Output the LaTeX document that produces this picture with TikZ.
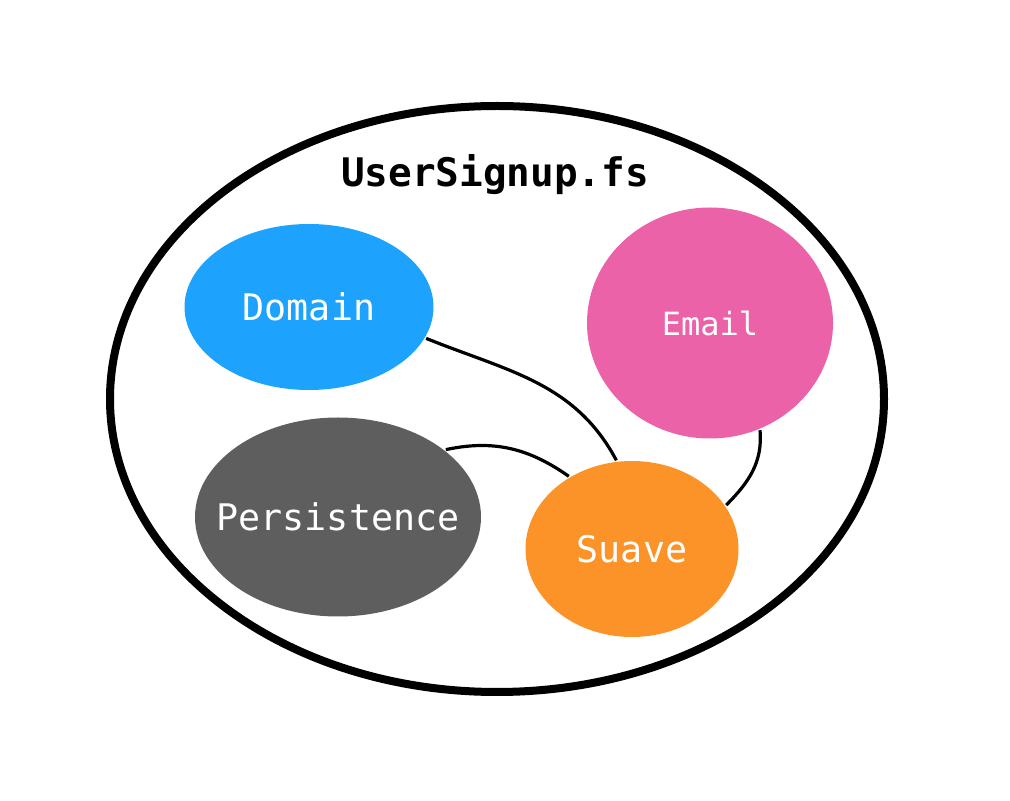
\documentclass[tikz,border=0pt]{standalone}
\usepackage{fontspec}
\usepackage{xcolor}
\usepackage{tikz}
\usetikzlibrary{shapes.geometric}
\usetikzlibrary{positioning}
\newfontfamily\codefont{DejaVu Sans Mono}
\definecolor{domainblue}{HTML}{1DA3FD}
\definecolor{emailpink}{HTML}{EC62A8}
\definecolor{persistgray}{HTML}{5E5E5E}
\definecolor{suaveorange}{HTML}{FC9329}
\begin{document}
\begin{tikzpicture}[on grid, line width=2.4pt,
    module/.style = {ellipse, inner sep=0pt, text=white, font=\codefont\fontsize{27.5}{30}\selectfont}]
    \useasboundingbox (0,0) rectangle (757.5pt,600pt);
    \draw[line width=6pt] (372.75pt,300.75pt) ellipse [x radius=290.25pt, y radius=219.75pt];

    \node[module, fill=domainblue, minimum width=186.75pt, minimum height=124.5pt] (D) at (231.75pt,369.75pt) {Domain};
    \node[module, fill=emailpink, minimum width=184.5pt, minimum height=173.25pt,
        font=\codefont\fontsize{24}{26}\selectfont] (E) [below right = 12pt and 300.75pt of D] {Email};
    \node[module, fill=persistgray, minimum width=214.5pt, minimum height=149.25pt, inner xsep=-16pt] (P) [below right = 157.5pt and 21.75pt of D] {Persistence};
    \node[module, fill=suaveorange, minimum width=159.75pt, minimum height=132pt] (S) [below right = 24pt and 220.5pt of P] {Suave};
    \node[font=\codefont\bfseries\fontsize{29.5}{32}\selectfont] (T) [above right = 99pt and 139.5pt of D] {UserSignup.fs};

    \draw (D.-15) to[out=-22, in=118] (S.100);
    \draw (P.32) to[out=12, in=145] (S.131);
    \draw (E.-65) to[out=-85, in=45] (S.25);
\end{tikzpicture}
\end{document}
